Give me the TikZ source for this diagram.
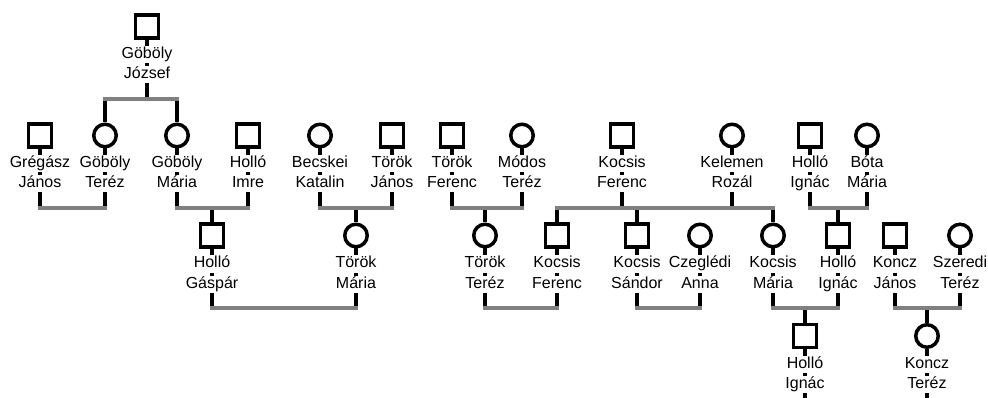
\documentclass[tikz,border=0pt]{standalone}
\usepackage{fontspec}
\setmainfont{Liberation Sans}
\begin{document}
\begin{tikzpicture}[x=1pt,y=-1pt,
  sq/.style={draw,rectangle,line width=3.5pt,minimum size=23pt,inner sep=0pt,fill=white},
  ci/.style={draw,circle,line width=3.5pt,minimum size=22.5pt,inner sep=0pt,fill=white},
  nm/.style={fill=white,inner xsep=1pt,inner ysep=1pt,text height=11.5pt,text depth=3.5pt,font=\fontsize{16}{19}\selectfont},
  vl/.style={line width=3.2pt,black},
  bar/.style={line width=4pt,black!50,line cap=rect}]
\useasboundingbox (0,0) rectangle (988,398);
\newcommand\mksym[4]{\node[#4] (#1) at (#2,#3) {};}
\newcommand\mkname[3]{\node[nm] (#1L1) at ([yshift=-28.5pt]#1.center) {#2};\node[nm] (#1L2) at ([yshift=-48.5pt]#1.center) {#3};}
% bar levels
\coordinate (b1) at (0,99);
\coordinate (b2) at (0,208);
\coordinate (b3) at (0,308);
\coordinate (bot) at (0,400);
% symbols
\mksym{gj}{147}{26.5}{sq}
\mksym{gr}{40}{135.5}{sq}
\mksym{gt}{105}{135.5}{ci}
\mksym{gm}{177}{135.5}{ci}
\mksym{hi}{248}{135.5}{sq}
\mksym{bk}{320}{135.5}{ci}
\mksym{tj}{392}{135.5}{sq}
\mksym{tf}{452}{135.5}{sq}
\mksym{mt}{522}{135.5}{ci}
\mksym{kf}{622}{135.5}{sq}
\mksym{kr}{732}{135.5}{ci}
\mksym{hig}{810}{135.5}{sq}
\mksym{bm}{867}{135.5}{ci}
\mksym{hg}{212}{235.5}{sq}
\mksym{tm}{356}{235.5}{ci}
\mksym{tt}{485}{235.5}{ci}
\mksym{kfb}{557}{235.5}{sq}
\mksym{ks}{637}{235.5}{sq}
\mksym{ca}{700}{235.5}{ci}
\mksym{km}{773}{235.5}{ci}
\mksym{higb}{838}{235.5}{sq}
\mksym{kj}{895}{235.5}{sq}
\mksym{szt}{960}{235.5}{ci}
\mksym{higc}{805}{336}{sq}
\mksym{kt}{927}{336}{ci}
% lines down from persons to their bars
\foreach \p in {gj}{\draw[vl] (\p.south) -- (\p.south |- b1);}
\foreach \p in {gr,gt,gm,hi,bk,tj,tf,mt,kf,kr,hig,bm}{\draw[vl] (\p.south) -- (\p.south |- b2);}
\foreach \p in {hg,tm,tt,kfb,ks,ca,km,higb,kj,szt}{\draw[vl] (\p.south) -- (\p.south |- b3);}
\foreach \p in {higc,kt}{\draw[vl] (\p.south) -- (\p.south |- bot);}
% lines from bars down to children
\foreach \p in {gt,gm}{\draw[vl] (\p.north |- b1) -- (\p.north);}
\foreach \p in {hg,tm,tt,kfb,ks,km,higb}{\draw[vl] (\p.north |- b2) -- (\p.north);}
\foreach \p in {higc,kt}{\draw[vl] (\p.north |- b3) -- (\p.north);}
% bars
\draw[bar] (gt.center |- b1) -- (gm.center |- b1);
\draw[bar] (gr.center |- b2) -- (gt.center |- b2);
\draw[bar] (gm.center |- b2) -- (hi.center |- b2);
\draw[bar] (bk.center |- b2) -- (tj.center |- b2);
\draw[bar] (tf.center |- b2) -- (mt.center |- b2);
\draw[bar] (kfb.center |- b2) -- (km.center |- b2);
\draw[bar] (hig.center |- b2) -- (bm.center |- b2);
\draw[bar] (hg.center |- b3) -- (tm.center |- b3);
\draw[bar] (tt.center |- b3) -- (kfb.center |- b3);
\draw[bar] (ks.center |- b3) -- (ca.center |- b3);
\draw[bar] (km.center |- b3) -- (higb.center |- b3);
\draw[bar] (kj.center |- b3) -- (szt.center |- b3);
% names
\mkname{gj}{Göböly}{József}
\mkname{gr}{Grégász}{János}
\mkname{gt}{Göböly}{Teréz}
\mkname{gm}{Göböly}{Mária}
\mkname{hi}{Holló}{Imre}
\mkname{bk}{Becskei}{Katalin}
\mkname{tj}{Török}{János}
\mkname{tf}{Török}{Ferenc}
\mkname{mt}{Módos}{Teréz}
\mkname{kf}{Kocsis}{Ferenc}
\mkname{kr}{Kelemen}{Rozál}
\mkname{hig}{Holló}{Ignác}
\mkname{bm}{Bóta}{Mária}
\mkname{hg}{Holló}{Gáspár}
\mkname{tm}{Török}{Mária}
\mkname{tt}{Török}{Teréz}
\mkname{kfb}{Kocsis}{Ferenc}
\mkname{ks}{Kocsis}{Sándor}
\mkname{ca}{Czeglédi}{Anna}
\mkname{km}{Kocsis}{Mária}
\mkname{higb}{Holló}{Ignác}
\mkname{kj}{Koncz}{János}
\mkname{szt}{Szeredi}{Teréz}
\mkname{higc}{Holló}{Ignác}
\mkname{kt}{Koncz}{Teréz}
\end{tikzpicture}
\end{document}
